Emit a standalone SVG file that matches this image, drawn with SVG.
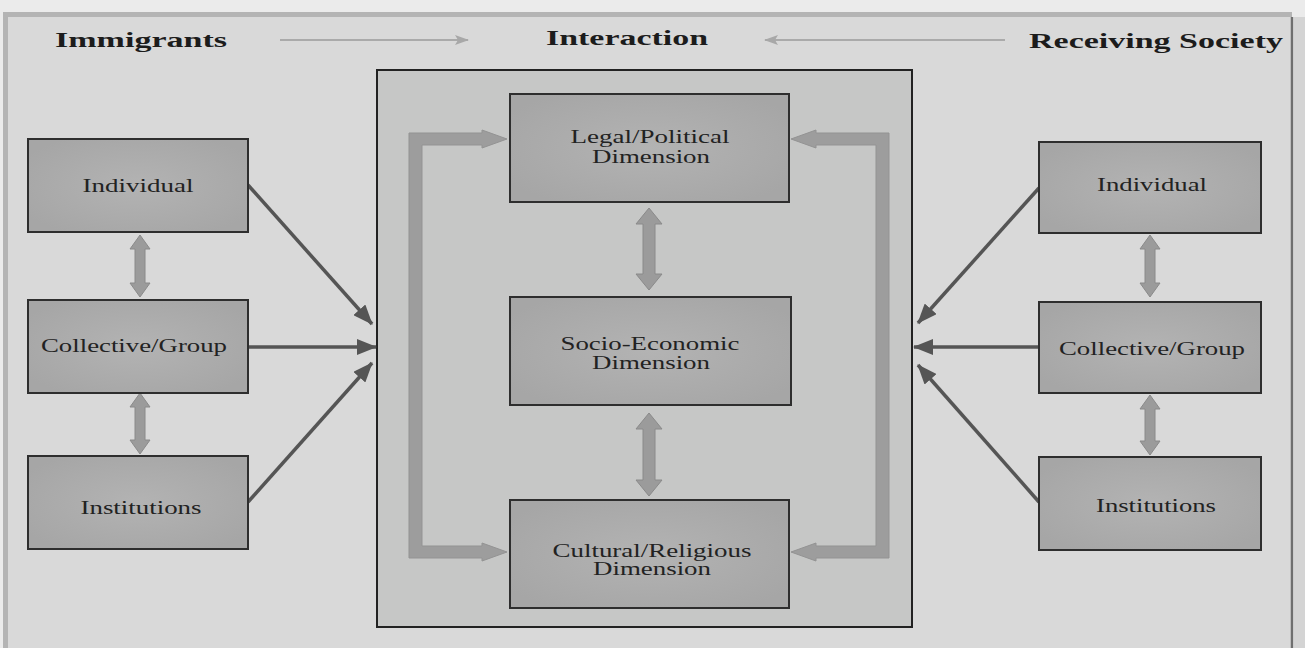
<svg xmlns="http://www.w3.org/2000/svg" width="1305" height="648" viewBox="0 0 1305 648">
<defs>
<radialGradient id="nodeFill" cx="50%" cy="50%" r="60%">
<stop offset="0%" stop-color="#b3b3b3"/>
<stop offset="100%" stop-color="#a6a6a6"/>
</radialGradient>
<marker id="darkHead" markerUnits="userSpaceOnUse" markerWidth="20" markerHeight="16" refX="19" refY="8" orient="auto">
<path d="M0,0 L20,8 L0,16 Z" fill="#555"/>
</marker>
<marker id="lightHead" markerUnits="userSpaceOnUse" markerWidth="14" markerHeight="10" refX="13" refY="5" orient="auto">
<path d="M0,0 L14,5 L0,10 L3,5 Z" fill="#a8a8a8"/>
</marker>
</defs>
<style>
.node rect{fill:url(#nodeFill);stroke:#2e2e2e;stroke-width:2}
.lbl{font-family:"Liberation Serif","Times New Roman",serif;font-size:18.5px;fill:#222;text-anchor:middle}
.hdr{font-family:"Liberation Serif","Times New Roman",serif;font-size:22px;font-weight:bold;fill:#1c1c1c;text-anchor:middle}
.conn{stroke:#555;stroke-width:3.5;fill:none;marker-end:url(#darkHead)}
.thin{stroke:#aaa;stroke-width:2;fill:none;marker-end:url(#lightHead)}
.dbl{fill:#9b9b9b;stroke:#8a8a8a;stroke-width:1}
.loop{fill:#9d9d9d;stroke:#939393;stroke-width:1}
</style>
<rect x="0" y="0" width="1305" height="648" fill="#ebebeb"/>
<rect x="3" y="12" width="1289" height="640" fill="#b4b4b4"/>
<rect x="8" y="17" width="1284" height="635" fill="#d9d9d9"/>
<line x1="1292" y1="17" x2="1292" y2="648" stroke="#6f6f6f" stroke-width="2.5"/>
<rect x="1294" y="17" width="11" height="631" fill="#d4d4d4"/>

<g id="headers">
<text class="hdr" x="141" y="47" textLength="172" lengthAdjust="spacingAndGlyphs">Immigrants</text>
<text class="hdr" x="627" y="45" textLength="162" lengthAdjust="spacingAndGlyphs">Interaction</text>
<text class="hdr" x="1156" y="48" textLength="254" lengthAdjust="spacingAndGlyphs">Receiving Society</text>
</g>

<g id="interaction-box">
<rect x="377" y="70" width="535" height="557" fill="#c6c7c6" stroke="#222" stroke-width="2"/>
</g>

<g id="connectors">
<line class="thin" x1="280" y1="40" x2="468" y2="40"/>
<line class="thin" x1="1005" y1="40" x2="765" y2="40"/>
<line class="conn" x1="248" y1="185" x2="372" y2="324"/>
<line class="conn" x1="248" y1="347" x2="376" y2="347"/>
<line class="conn" x1="248" y1="502" x2="372" y2="363"/>
<line class="conn" x1="1039" y1="188" x2="918" y2="323"/>
<line class="conn" x1="1039" y1="347" x2="914" y2="347"/>
<line class="conn" x1="1039" y1="502" x2="918" y2="365"/>
<polygon class="dbl" points="140,235 150,249 145,249 145,283 150,283 140,297 130,283 135,283 135,249 130,249"/>
<polygon class="dbl" points="140,393 150,407 145,407 145,440 150,440 140,454 130,440 135,440 135,407 130,407"/>
<polygon class="dbl" points="1150,235 1160,249 1155,249 1155,283 1160,283 1150,297 1140,283 1145,283 1145,249 1140,249"/>
<polygon class="dbl" points="1150,395 1160,409 1155,409 1155,441 1160,441 1150,455 1140,441 1145,441 1145,409 1140,409"/>
<polygon class="dbl" points="649,208 662,224 655,224 655,274 662,274 649,290 636,274 643,274 643,224 636,224"/>
<polygon class="dbl" points="649,413 662,429 655,429 655,480 662,480 649,496 636,480 643,480 643,429 636,429"/>
<polygon class="loop" points="507,139 482,130 482,133 409,133 409,558 482,558 482,561 507,552 482,543 482,546 422,546 422,145 482,145 482,148"/>
<polygon class="loop" points="791,139 816,130 816,133 889,133 889,558 816,558 816,561 791,552 816,543 816,546 876,546 876,145 816,145 816,148"/>
</g>

<g id="imm-individual" class="node">
<rect x="28" y="139" width="220" height="93"/>
<text class="lbl" x="138" y="192" textLength="111" lengthAdjust="spacingAndGlyphs">Individual</text>
</g>
<g id="imm-collective" class="node">
<rect x="28" y="300" width="220" height="93"/>
<text class="lbl" x="134" y="352" textLength="186" lengthAdjust="spacingAndGlyphs">Collective/Group</text>
</g>
<g id="imm-institutions" class="node">
<rect x="28" y="456" width="220" height="93"/>
<text class="lbl" x="141" y="514" textLength="121" lengthAdjust="spacingAndGlyphs">Institutions</text>
</g>

<g id="rec-individual" class="node">
<rect x="1039" y="142" width="222" height="91"/>
<text class="lbl" x="1152" y="191" textLength="110" lengthAdjust="spacingAndGlyphs">Individual</text>
</g>
<g id="rec-collective" class="node">
<rect x="1039" y="302" width="222" height="91"/>
<text class="lbl" x="1152" y="355" textLength="186" lengthAdjust="spacingAndGlyphs">Collective/Group</text>
</g>
<g id="rec-institutions" class="node">
<rect x="1039" y="457" width="222" height="93"/>
<text class="lbl" x="1156" y="512" textLength="120" lengthAdjust="spacingAndGlyphs">Institutions</text>
</g>

<g id="legal-political" class="node">
<rect x="510" y="94" width="279" height="108"/>
<text class="lbl" x="650" y="143" textLength="159" lengthAdjust="spacingAndGlyphs">Legal/Political</text>
<text class="lbl" x="651" y="163" textLength="118" lengthAdjust="spacingAndGlyphs">Dimension</text>
</g>
<g id="socio-economic" class="node">
<rect x="510" y="297" width="281" height="108"/>
<text class="lbl" x="650" y="350" textLength="179" lengthAdjust="spacingAndGlyphs">Socio-Economic</text>
<text class="lbl" x="651" y="369" textLength="118" lengthAdjust="spacingAndGlyphs">Dimension</text>
</g>
<g id="cultural-religious" class="node">
<rect x="510" y="500" width="279" height="108"/>
<text class="lbl" x="652" y="557" textLength="199" lengthAdjust="spacingAndGlyphs">Cultural/Religious</text>
<text class="lbl" x="652" y="575" textLength="118" lengthAdjust="spacingAndGlyphs">Dimension</text>
</g>
</svg>
